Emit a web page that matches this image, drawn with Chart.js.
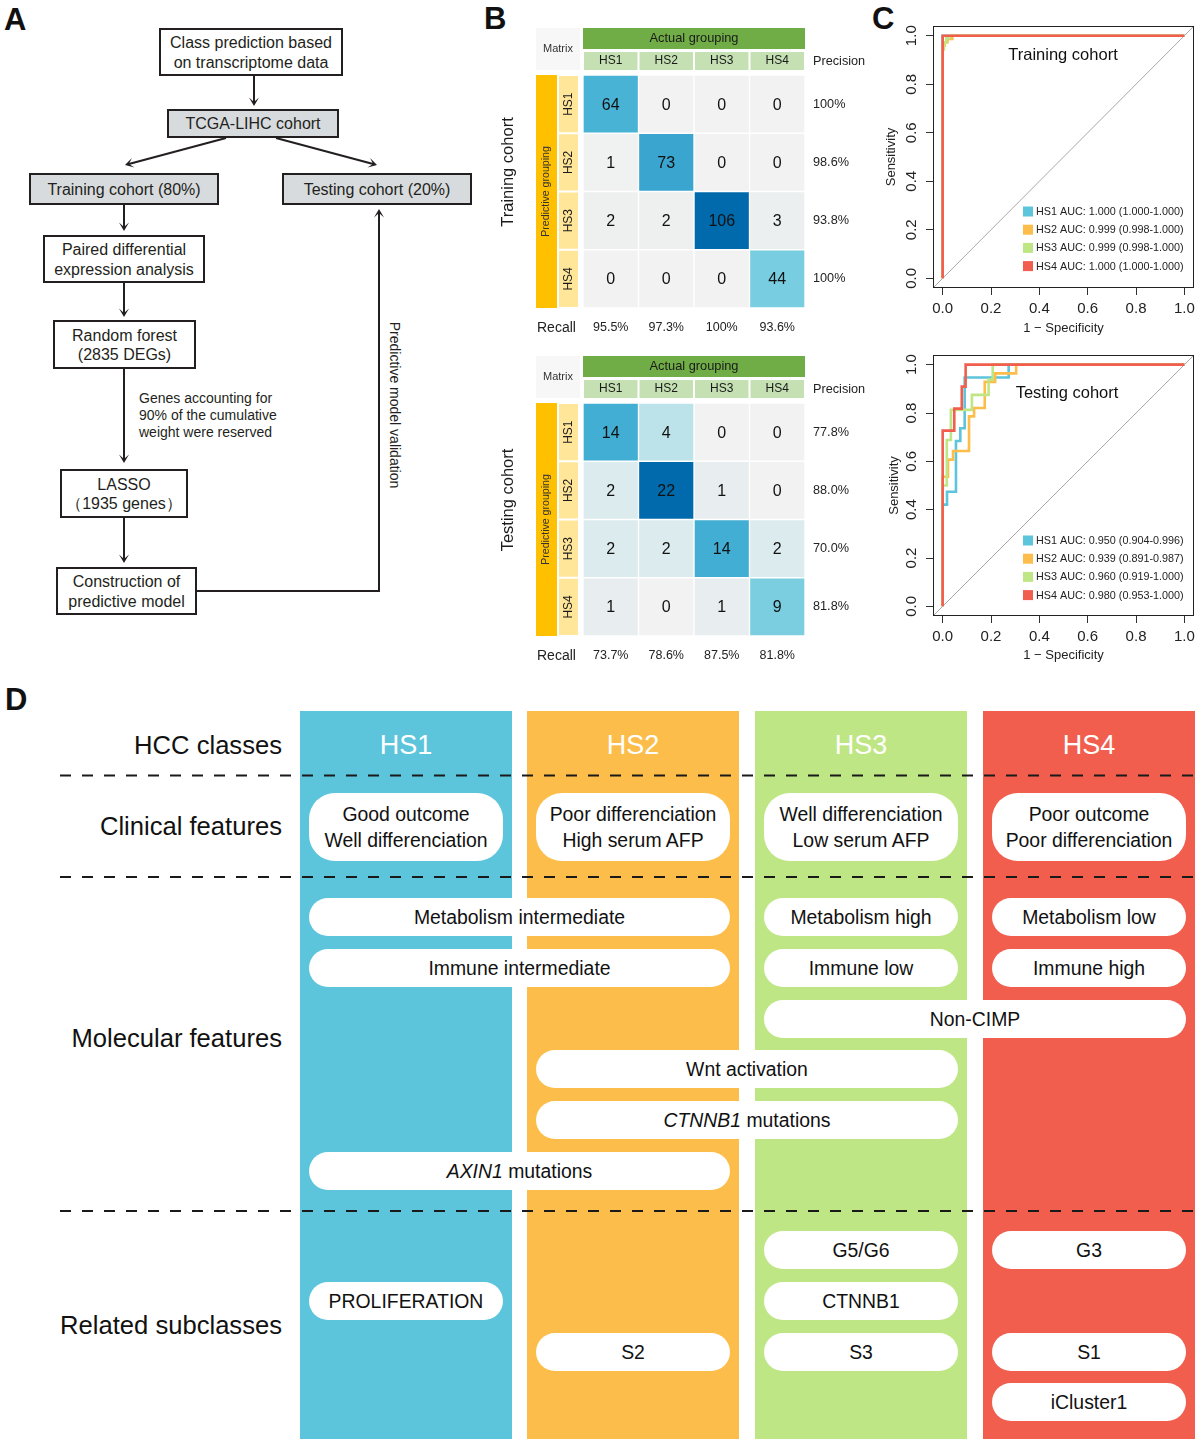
<!DOCTYPE html>
<html>
<head>
<meta charset="utf-8">
<title>HCC classes prediction</title>
<script src="https://cdn.jsdelivr.net/npm/chart.js@4.4.1/dist/chart.umd.min.js"></script>
<style>
  body { margin: 0; background: #fff; }
  #page { position: relative; width: 1200px; height: 1444px; overflow: hidden;
          font-family: "Liberation Sans", Arial, Helvetica, sans-serif; color: #1a1a1a; }
  .wrap { position: absolute; }
  .wrap canvas { display: block; }
  .tag { position: absolute; font-size: 31px; font-weight: bold; line-height: 1; color: #111; }
  .col { position: absolute; top: 711px; height: 728px; width: 212px; }
  .colname { position: absolute; width: 212px; top: 730px; height: 30px; line-height: 30px;
             text-align: center; color: #fff; font-size: 27px; }
  .rowname { position: absolute; right: 918px; height: 30px; line-height: 30px;
             font-size: 25.6px; color: #111; white-space: nowrap; }
  .pill { position: absolute; background: #fff; border-radius: 19px; display: flex;
          align-items: center; justify-content: center; text-align: center;
          font-size: 19.4px; line-height: 26.5px; color: #111; white-space: nowrap; }
  .pill.two { border-radius: 26px; }
</style>
</head>
<body>
<div id="page">
  <div class="tag" style="left:4px;top:4px">A</div>
  <div class="tag" style="left:484px;top:3px">B</div>
  <div class="tag" style="left:872px;top:3px">C</div>
  <div class="tag" style="left:5px;top:684px">D</div>

  <div class="wrap" style="left:490px;top:0px"><canvas id="cmTrain" width="390" height="340"></canvas></div>
  <div class="wrap" style="left:490px;top:328px"><canvas id="cmTest" width="390" height="340"></canvas></div>
  <div class="wrap" style="left:870px;top:0px"><canvas id="rocTrain" width="330" height="340"></canvas></div>
  <div class="wrap" style="left:870px;top:330px"><canvas id="rocTest" width="330" height="340"></canvas></div>
</div>

<script>
Chart.defaults.font.family = '"Liberation Sans", Arial, Helvetica, sans-serif';
Chart.defaults.color = '#222';
Chart.defaults.animation = false;

// ---------- data ----------
const classes = ['HS1', 'HS2', 'HS3', 'HS4'];
const classColors = ['#5cc5dc', '#fdbd4a', '#bfe684', '#f15e4e'];

// confusion matrices: rows = predictive grouping, columns = actual grouping
const trainCounts = [
  [64, 0, 0, 0],
  [1, 73, 0, 0],
  [2, 2, 106, 3],
  [0, 0, 0, 44]
];
const trainPrecision = ['100%', '98.6%', '93.8%', '100%'];
const trainRecall = ['95.5%', '97.3%', '100%', '93.6%'];

const testCounts = [
  [14, 4, 0, 0],
  [2, 22, 1, 0],
  [2, 2, 14, 2],
  [1, 0, 1, 9]
];
const testPrecision = ['77.8%', '88.0%', '70.0%', '81.8%'];
const testRecall = ['73.7%', '78.6%', '87.5%', '81.8%'];
const cellSpan = [1, 1, 1, 1];

// ROC curves, points are [1 - specificity, sensitivity]
const rocTrainHS1 = [[0, 0], [0, 1], [1, 1]];
const rocTrainHS2 = [[0, 0], [0, 0.96], [0.008, 0.96], [0.008, 0.973], [0.02, 0.973], [0.02, 0.987], [0.04, 0.987], [0.04, 1], [1, 1]];
const rocTrainHS3 = [[0, 0], [0, 0.943], [0.005, 0.943], [0.005, 0.972], [0.015, 0.972], [0.015, 0.99], [0.03, 0.99], [0.03, 1], [1, 1]];
const rocTrainHS4 = [[0, 0], [0, 1], [1, 1]];

const rocTestHS1 = [[0, 0], [0, 0.421], [0.018, 0.421], [0.018, 0.474], [0.055, 0.474], [0.055, 0.684], [0.073, 0.684], [0.073, 0.737], [0.091, 0.737], [0.091, 0.947], [0.273, 0.947], [0.273, 1], [1, 1]];
const rocTestHS2 = [[0, 0], [0, 0.536], [0.022, 0.536], [0.022, 0.607], [0.043, 0.607], [0.043, 0.643], [0.109, 0.643], [0.109, 0.786], [0.13, 0.786], [0.13, 0.821], [0.174, 0.821], [0.174, 0.929], [0.217, 0.929], [0.217, 0.964], [0.304, 0.964], [0.304, 1], [1, 1]];
const rocTestHS3 = [[0, 0], [0, 0.5], [0.017, 0.5], [0.017, 0.688], [0.034, 0.688], [0.034, 0.813], [0.121, 0.813], [0.121, 0.875], [0.19, 0.875], [0.19, 0.938], [0.207, 0.938], [0.207, 1], [1, 1]];
const rocTestHS4 = [[0, 0], [0, 0.727], [0.048, 0.727], [0.048, 0.818], [0.079, 0.818], [0.079, 0.909], [0.095, 0.909], [0.095, 1], [1, 1]];

const diagonal = [[-0.04, -0.04], [1.04, 1.04]];
const rocTicks = [0, 0.2, 0.4, 0.6, 0.8, 1];
const trainAuc = ['1.000 (1.000-1.000)', '0.999 (0.998-1.000)', '0.999 (0.998-1.000)', '1.000 (1.000-1.000)'];
const testAuc = ['0.950 (0.904-0.996)', '0.939 (0.891-0.987)', '0.960 (0.919-1.000)', '0.980 (0.953-1.000)'];

// flowchart (panel A)
const flowSteps = [
  ['Class prediction based', 'on transcriptome data'],
  ['TCGA-LIHC cohort'],
  ['Training cohort (80%)'],
  ['Testing cohort (20%)'],
  ['Paired differential', 'expression analysis'],
  ['Random forest', '(2835 DEGs)'],
  ['LASSO', '（1935 genes）'],
  ['Construction of', 'predictive model']
];
const flowNote = ['Genes accounting for', '90% of the cumulative', 'weight were reserved'];
const flowReturn = 'Predictive model validation';

// class summary (panel D)
const summaryRows = ['HCC classes', 'Clinical features', 'Molecular features', 'Related subclasses'];
const clinicalFeatures = [
  ['Good outcome', 'Well differenciation'],
  ['Poor differenciation', 'High serum AFP'],
  ['Well differenciation', 'Low serum AFP'],
  ['Poor outcome', 'Poor differenciation']
];
// [label, first class, last class, line]
const molecularFeatures = [
  ['Metabolism intermediate', 0, 1, 0],
  ['Metabolism high', 2, 2, 0],
  ['Metabolism low', 3, 3, 0],
  ['Immune intermediate', 0, 1, 1],
  ['Immune low', 2, 2, 1],
  ['Immune high', 3, 3, 1],
  ['Non-CIMP', 2, 3, 2],
  ['Wnt activation', 1, 2, 3],
  ['<i>CTNNB1</i> mutations', 1, 2, 4],
  ['<i>AXIN1</i> mutations', 0, 1, 5]
];
const relatedSubclasses = [
  ['G5/G6', 2, 2, 0], ['G3', 3, 3, 0],
  ['PROLIFERATION', 0, 0, 1], ['CTNNB1', 2, 2, 1],
  ['S2', 1, 1, 2], ['S3', 2, 2, 2], ['S1', 3, 3, 2],
  ['iCluster1', 3, 3, 3]
];

// ---------- helpers ----------
function label(ctx, text, x, y, size, color, align, rot) {
  ctx.save();
  ctx.translate(x, y);
  if (rot) ctx.rotate(rot * Math.PI / 180);
  ctx.font = size + 'px "Liberation Sans", Arial, sans-serif';
  ctx.fillStyle = color;
  ctx.textAlign = align || 'center';
  ctx.textBaseline = 'middle';
  ctx.fillText(text, 0, 0);
  ctx.restore();
}

function box(ctx, x0, y0, x1, y1, color) {
  ctx.fillStyle = color;
  ctx.fillRect(x0, y0, x1 - x0, y1 - y0);
}

function cellColor(v, max) {
  const t = v / max;
  const stops = [[0, [242, 242, 242]], [0.03, [236, 239, 239]], [0.09, [220, 235, 238]],
                 [0.18, [190, 227, 234]], [0.41, [122, 206, 224]], [0.62, [69, 177, 213]],
                 [0.69, [58, 165, 206]], [1, [0, 106, 172]]];
  for (let k = 1; k < stops.length; k++) {
    if (t <= stops[k][0]) {
      const [t0, c0] = stops[k - 1], [t1, c1] = stops[k];
      const f = (t - t0) / (t1 - t0);
      return 'rgb(' + c0.map((c, i) => Math.round(c + (c1[i] - c) * f)).join(',') + ')';
    }
  }
  return 'rgb(0,106,172)';
}

// ---------- panel B: confusion matrices ----------
const matrixDecor = {
  id: 'matrixDecor',
  beforeDatasetsDraw(chart, args, o) {
    const {ctx, chartArea: a, scales: {x, y}} = chart;
    const band = y.getPixelForValue(1) - y.getPixelForValue(0);
    box(ctx, a.left - 47, a.top - 47, a.left - 3, a.top - 5, '#f7f7f7');
    label(ctx, 'Matrix', a.left - 25, a.top - 26, 11, '#333');
    box(ctx, a.left, a.top - 47, a.right, a.top - 26, '#70ad47');
    label(ctx, 'Actual grouping', (a.left + a.right) / 2, a.top - 37, 12.8, '#1a1a1a');
    classes.forEach((c, j) => {
      const x0 = x.getPixelForValue(j), x1 = x.getPixelForValue(j + 1);
      box(ctx, x0 + 1, a.top - 23, x1 - 1, a.top - 5, '#c5e0b3');
      label(ctx, c, (x0 + x1) / 2, a.top - 14, 12, '#1a1a1a');
      label(ctx, o.recall[j], (x0 + x1) / 2, a.bottom + 20, 12.5, '#222');
    });
    label(ctx, 'Precision', a.right + 8, a.top - 14, 12.7, '#222', 'left');
    label(ctx, 'Recall', a.left - 46, a.bottom + 20, 14, '#222', 'left');
    box(ctx, a.left - 47, a.top, a.left - 26, a.bottom, '#ffc000');
    label(ctx, 'Predictive grouping', a.left - 36.5, (a.top + a.bottom) / 2, 10.6, '#333', 'center', -90);
    classes.forEach((c, i) => {
      const yc = y.getPixelForValue(i);
      box(ctx, a.left - 24, yc - band / 2 + 1, a.left - 5, yc + band / 2 - 1, '#ffe699');
      label(ctx, c, a.left - 14.5, yc, 12, '#1a1a1a', 'center', -90);
      label(ctx, o.precision[i], a.right + 8, yc, 12.7, '#222', 'left');
    });
    label(ctx, o.cohort, a.left - 75, a.top + 97, 16.5, '#1a1a1a', 'center', -90);
  },
  afterDatasetsDraw(chart) {
    const ctx = chart.ctx;
    chart.data.datasets.forEach((ds, j) => {
      chart.getDatasetMeta(j).data.forEach((bar, i) => {
        const p = bar.getCenterPoint();
        label(ctx, String(ds.counts[i]), p.x, p.y + 1, 16, '#111');
      });
    });
  }
};

function matrixChart(id, counts, precision, recall, cohort) {
  const maxCount = Math.max(...counts.flat());
  const datasets = classes.map((c, j) => ({
    label: c,
    data: cellSpan,
    counts: counts.map(row => row[j]),
    backgroundColor: counts.map(row => cellColor(row[j], maxCount)),
    borderColor: '#ffffff',
    borderWidth: 1,
    borderSkipped: false,
    barPercentage: 1,
    categoryPercentage: 1
  }));
  new Chart(document.getElementById(id), {
    type: 'bar',
    data: {labels: classes, datasets: datasets},
    options: {
      responsive: false,
      indexAxis: 'y',
      events: [],
      layout: {padding: {left: 93, right: 75, top: 75, bottom: 32}},
      scales: {
        x: {stacked: true, min: 0, max: 4, display: false},
        y: {stacked: true, display: false}
      },
      plugins: {
        legend: {display: false},
        tooltip: {enabled: false},
        matrixDecor: {precision: precision, recall: recall, cohort: cohort}
      }
    },
    plugins: [matrixDecor]
  });
}

matrixChart('cmTrain', trainCounts, trainPrecision, trainRecall, 'Training cohort');
matrixChart('cmTest', testCounts, testPrecision, testRecall, 'Testing cohort');

// ---------- panel C: ROC curves ----------
const rocDecor = {
  id: 'rocDecor',
  afterDatasetsDraw(chart, args, o) {
    const {ctx, chartArea: a, scales: {y}} = chart;
    ctx.save();
    ctx.strokeStyle = '#222';
    ctx.lineWidth = 1;
    ctx.strokeRect(Math.round(a.left) + 0.5, Math.round(a.top) + 0.5, Math.round(a.width) - 1, Math.round(a.height) - 1);
    rocTicks.forEach(v => label(ctx, v.toFixed(1), a.left - 21, y.getPixelForValue(v), 15, '#222', 'center', -90));
    label(ctx, o.title, o.titleX, o.titleY, 16.5, '#111');
    o.legend.forEach((t, i) => {
      const yy = a.top + 185.5 + i * 18.2;
      ctx.fillStyle = classColors[i];
      ctx.fillRect(a.left + 90, yy - 5, 10, 10);
      label(ctx, classes[i] + ' AUC: ' + t, a.left + 103, yy + 0.5, 10.8, '#222', 'left');
    });
    ctx.restore();
  }
};

function rocChart(id, curves, auc, cfg) {
  const datasets = classes.map((c, i) => ({
    label: c,
    data: curves[i].map(p => ({x: p[0], y: p[1]})),
    borderColor: classColors[i],
    borderWidth: 2.6,
    showLine: true,
    pointRadius: 0,
    tension: 0,
    order: 4 - i
  }));
  datasets.push({
    label: 'chance',
    data: diagonal.map(p => ({x: p[0], y: p[1]})),
    borderColor: '#a8a8a8',
    borderWidth: 1,
    showLine: true,
    pointRadius: 0,
    order: 10
  });
  const fixTicks = scale => { scale.ticks = rocTicks.map(v => ({value: v})); };
  new Chart(document.getElementById(id), {
    type: 'scatter',
    data: {datasets: datasets},
    options: {
      responsive: false,
      events: [],
      layout: {padding: {left: 0, right: 5, top: cfg.top, bottom: 0}},
      scales: {
        x: {
          min: -0.04, max: 1.04,
          afterBuildTicks: fixTicks,
          afterFit: s => { s.height = cfg.xAxisH; },
          grid: {drawOnChartArea: false, tickLength: 7, color: '#333'},
          border: {display: false},
          ticks: {font: {size: 15}, color: '#222', padding: 5, maxRotation: 0, autoSkip: false,
                  callback: v => Number(v).toFixed(1)},
          title: {display: true, text: '1 − Specificity', font: {size: 13}, color: '#222',
                  padding: {top: 0, bottom: cfg.xTitlePad}}
        },
        y: {
          min: -0.04, max: 1.04,
          afterBuildTicks: fixTicks,
          afterFit: s => { s.width = 63; },
          grid: {drawOnChartArea: false, tickLength: 7, color: '#333'},
          border: {display: false},
          ticks: {display: false},
          title: {display: true, text: 'Sensitivity', font: {size: 13}, color: '#222',
                  padding: {top: cfg.yTitlePad, bottom: 0}}
        }
      },
      plugins: {
        legend: {display: false},
        tooltip: {enabled: false},
        rocDecor: {title: cfg.title, titleX: cfg.titleX, titleY: cfg.titleY, legend: auc}
      }
    },
    plugins: [rocDecor]
  });
}

rocChart('rocTrain', [rocTrainHS1, rocTrainHS2, rocTrainHS3, rocTrainHS4], trainAuc,
  {top: 26, xAxisH: 52, xTitlePad: 4, yTitlePad: 14, title: 'Training cohort', titleX: 193, titleY: 55});
rocChart('rocTest', [rocTestHS1, rocTestHS2, rocTestHS3, rocTestHS4], testAuc,
  {top: 25, xAxisH: 54, xTitlePad: 7, yTitlePad: 17, title: 'Testing cohort', titleX: 197, titleY: 63});

// ---------- panel A: flowchart ----------
const flowLayout = [
  {x: 159, y: 28, w: 184, h: 48},
  {x: 167, y: 109, w: 172, h: 29, shade: true},
  {x: 29, y: 173, w: 190, h: 32, shade: true},
  {x: 282, y: 173, w: 190, h: 32, shade: true},
  {x: 43, y: 235, w: 162, h: 48},
  {x: 53, y: 320, w: 143, h: 49},
  {x: 60, y: 469, w: 128, h: 49},
  {x: 56, y: 567, w: 141, h: 48}
];
const flowArrows = [
  [254, 76, 254, 106],
  [226, 138, 125, 165],
  [276, 138, 377, 165],
  [124, 205, 124, 231],
  [124, 283, 124, 317],
  [124, 369, 124, 463],
  [124, 518, 124, 563],
  [379, 591, 379, 209]
];

function arrow(x1, y1, x2, y2) {
  const len = Math.hypot(x2 - x1, y2 - y1), dx = (x2 - x1) / len, dy = (y2 - y1) / len;
  const nx = -dy, ny = dx;
  const p = (a, b) => (x2 - dx * a + nx * b).toFixed(1) + ',' + (y2 - dy * a + ny * b).toFixed(1);
  return '<line x1="' + x1 + '" y1="' + y1 + '" x2="' + (x2 - dx * 4) + '" y2="' + (y2 - dy * 4) +
         '" stroke="#231f20" stroke-width="2"/>' +
         '<polygon points="' + p(0, 0) + ' ' + p(8.5, 5) + ' ' + p(4, 0) + ' ' + p(8.5, -5) + '" fill="#231f20"/>';
}

let svg = '<svg xmlns="http://www.w3.org/2000/svg" width="480" height="650" style="position:absolute;left:0;top:0" ' +
          'font-family="Liberation Sans, Arial, sans-serif" fill="#231f20">';
flowSteps.forEach((lines, k) => {
  const b = flowLayout[k];
  svg += '<rect x="' + (b.x + 1) + '" y="' + (b.y + 1) + '" width="' + (b.w - 2) + '" height="' + (b.h - 2) +
         '" fill="' + (b.shade ? '#d8dbde' : '#ffffff') + '" stroke="#231f20" stroke-width="2"/>';
  const cy = b.y + b.h / 2;
  lines.forEach((t, i) => {
    const ty = cy + (i - (lines.length - 1) / 2) * 19.5 + 5.8;
    svg += '<text x="' + (b.x + b.w / 2) + '" y="' + ty + '" text-anchor="middle" font-size="16">' + t + '</text>';
  });
});
flowArrows.forEach(a => { svg += arrow(a[0], a[1], a[2], a[3]); });
svg += '<line x1="196" y1="591" x2="380" y2="591" stroke="#231f20" stroke-width="2"/>';
flowNote.forEach((t, i) => {
  svg += '<text x="139" y="' + (403 + i * 17) + '" font-size="14">' + t + '</text>';
});
svg += '<text transform="translate(390,405) rotate(90)" text-anchor="middle" font-size="14">' + flowReturn + '</text>';
svg += '</svg>';

const page = document.getElementById('page');
page.insertAdjacentHTML('beforeend', svg);

// ---------- panel D: class summary ----------
const colLeft = [300, 527, 755, 983];
const colWidth = 212;
const rowCenters = [745, 826, 1038, 1325];
const molecularTop = [898, 949, 1000, 1050, 1101, 1152];
const relatedTop = [1231, 1282, 1333, 1383];
const dashY = [775.5, 877, 1211];

let html = '';
classes.forEach((c, i) => {
  html += '<div class="col" style="left:' + colLeft[i] + 'px;background:' + classColors[i] + '"></div>';
  html += '<div class="colname" style="left:' + colLeft[i] + 'px">' + c + '</div>';
});
summaryRows.forEach((t, i) => {
  html += '<div class="rowname" style="top:' + (rowCenters[i] - 15) + 'px">' + t + '</div>';
});
function pill(text, from, to, top, h, cls) {
  const left = colLeft[from] + 9, right = colLeft[to] + colWidth - 9;
  return '<div class="pill ' + (cls || '') + '" style="left:' + left + 'px;top:' + top + 'px;width:' +
         (right - left) + 'px;height:' + h + 'px"><div>' + text + '</div></div>';
}
clinicalFeatures.forEach((lines, i) => { html += pill(lines.join('<br>'), i, i, 793, 68, 'two'); });
molecularFeatures.forEach(f => { html += pill(f[0], f[1], f[2], molecularTop[f[3]], 38); });
relatedSubclasses.forEach(f => { html += pill(f[0], f[1], f[2], relatedTop[f[3]], 38); });

let dash = '<svg xmlns="http://www.w3.org/2000/svg" width="1200" height="1444" style="position:absolute;left:0;top:0;pointer-events:none">';
dashY.forEach(y => {
  dash += '<line x1="60" y1="' + y + '" x2="1195" y2="' + y + '" stroke="#1a1a1a" stroke-width="2" stroke-dasharray="11 11"/>';
});
dash += '</svg>';
page.insertAdjacentHTML('beforeend', html + dash);
</script>
</body>
</html>
